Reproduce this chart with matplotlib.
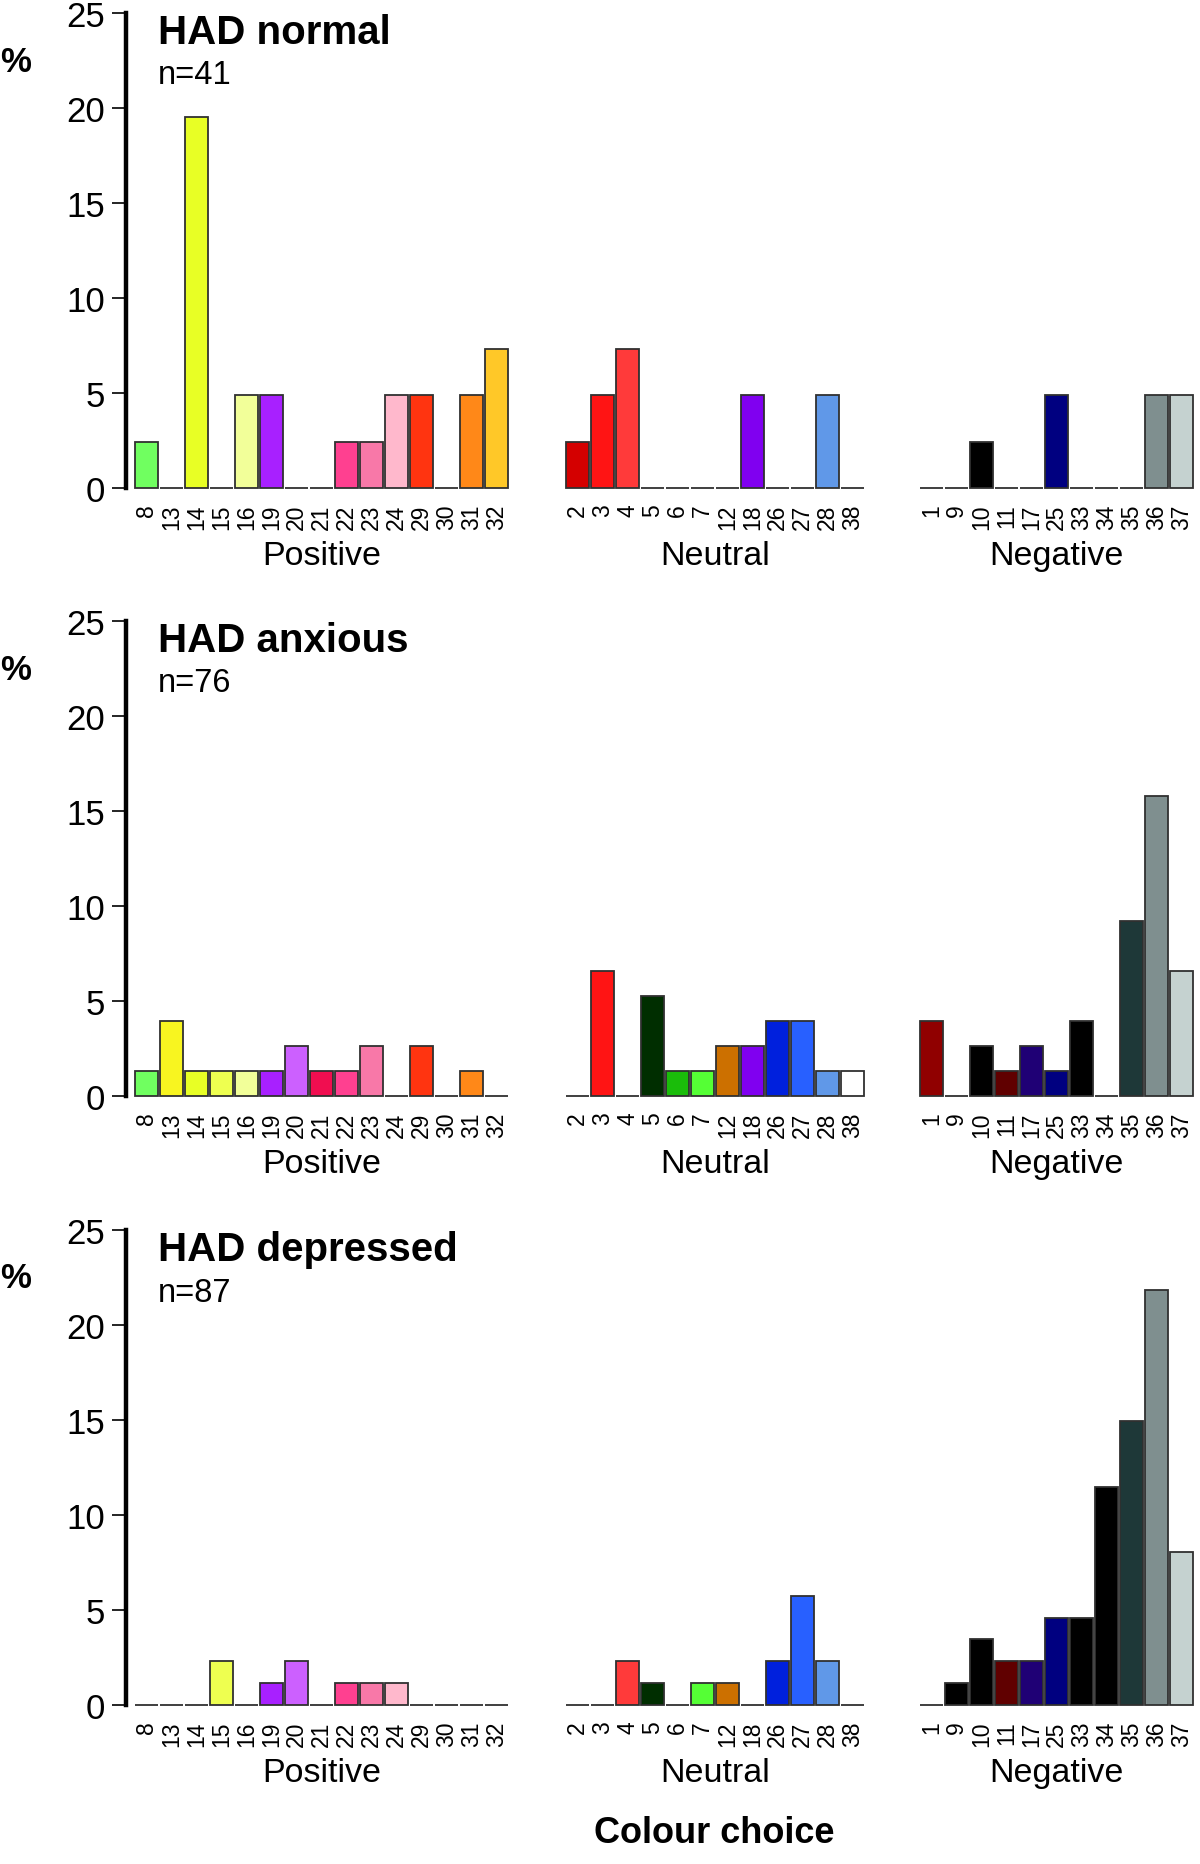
import numpy as np
import matplotlib.pyplot as plt
import matplotlib.transforms as mtransforms

plt.rcParams['font.family'] = ['Liberation Sans', 'DejaVu Sans']

# colour card numbers in each group
POSITIVE = [8, 13, 14, 15, 16, 19, 20, 21, 22, 23, 24, 29, 30, 31, 32]
NEUTRAL = [2, 3, 4, 5, 6, 7, 12, 18, 26, 27, 28, 38]
NEGATIVE = [1, 9, 10, 11, 17, 25, 33, 34, 35, 36, 37]
GROUP_NAMES = ['Positive', 'Neutral', 'Negative']

# fill colour of every card
CARD_COLOURS = {
    1: '#900000', 2: '#d40000', 3: '#ff1414', 4: '#ff3a3a', 5: '#002e00',
    6: '#1abd0a', 7: '#55ff35', 8: '#70ff60', 9: '#000000', 10: '#000000',
    11: '#600000', 12: '#cc7000', 13: '#f8f520', 14: '#e8ff25', 15: '#eeff50',
    16: '#f2ff99', 17: '#1f0075', 18: '#8000f0', 19: '#a820ff', 20: '#cc60ff',
    21: '#f00e50', 22: '#ff4090', 23: '#f878a8', 24: '#ffb8cc', 25: '#000080',
    26: '#0020dd', 27: '#2860ff', 28: '#6098e8', 29: '#ff3410', 30: '#ffffff',
    31: '#ff8818', 32: '#ffc828', 33: '#000000', 34: '#000000', 35: '#1e3838',
    36: '#7f8f8f', 37: '#c5d2d0', 38: '#ffffff',
}

TITLES = ['HAD normal', 'HAD anxious', 'HAD depressed']
N_LABELS = ['n=41', 'n=76', 'n=87']

# percentages
normal_pos = [2.44, 0, 19.51, 0, 4.88, 4.88, 0, 0, 2.44, 2.44, 4.88, 4.88, 0, 4.88, 7.32]
normal_neu = [2.44, 4.88, 7.32, 0, 0, 0, 0, 4.88, 0, 0, 4.88, 0]
normal_neg = [0, 0, 2.44, 0, 0, 4.88, 0, 0, 0, 4.88, 4.88]

anxious_pos = [1.32, 3.95, 1.32, 1.32, 1.32, 1.32, 2.63, 1.32, 1.32, 2.63, 0, 2.63, 0, 1.32, 0]
anxious_neu = [0, 6.58, 0, 5.26, 1.32, 1.32, 2.63, 2.63, 3.95, 3.95, 1.32, 1.32]
anxious_neg = [3.95, 0, 2.63, 1.32, 2.63, 1.32, 3.95, 0, 9.21, 15.79, 6.58]

depressed_pos = [0, 0, 0, 2.30, 0, 1.15, 2.30, 0, 1.15, 1.15, 1.15, 0, 0, 0, 0]
depressed_neu = [0, 0, 2.30, 1.15, 0, 1.15, 1.15, 0, 2.30, 5.75, 2.30, 0]
depressed_neg = [0, 1.15, 3.45, 2.30, 2.30, 4.60, 4.60, 11.49, 14.94, 21.84, 8.05]

panel_data = [
    [normal_pos, normal_neu, normal_neg],
    [anxious_pos, anxious_neu, anxious_neg],
    [depressed_pos, depressed_neu, depressed_neg],
]
groups = [POSITIVE, NEUTRAL, NEGATIVE]
offsets = [0, 17.25, 31.4]

W, H = 1200, 1865
fig = plt.figure(figsize=(W / 100, H / 100), dpi=100)

zero_px = [489, 1097, 1706]
height_px = 475

for p in range(3):
    ax = fig.add_axes([126 / W, 1 - zero_px[p] / H, 1074 / W, height_px / H])
    ticks, labels = [], []
    trans = mtransforms.blended_transform_factory(ax.transData, ax.transAxes)
    for g in range(3):
        xs = offsets[g] + np.arange(len(groups[g]))
        cols = [CARD_COLOURS[c] for c in groups[g]]
        ax.bar(xs, panel_data[p][g], width=0.92, color=cols,
               edgecolor='#303030', linewidth=1.3, clip_on=False)
        ticks += list(xs)
        labels += [str(c) for c in groups[g]]
        ax.text(xs.mean(), -0.143, GROUP_NAMES[g], transform=trans,
                ha='center', va='center', fontsize=24.5)
    ax.set_xlim(-0.82, 42.14)
    ax.set_ylim(0, 25)
    ax.set_xticks(ticks)
    ax.set_xticklabels(labels, rotation=90, fontsize=16.5, va='top')
    ax.tick_params(axis='x', length=0, pad=11)
    ax.set_yticks([0, 5, 10, 15, 20, 25])
    ax.tick_params(axis='y', labelsize=25, length=10, width=1.2, pad=5)
    for s in ['top', 'right', 'bottom']:
        ax.spines[s].set_visible(False)
    ax.spines['left'].set_linewidth(3.2)
    ax.spines['left'].set_bounds(0, 25)

    ax.text(0.0298, 1 - 19 / height_px, TITLES[p], transform=ax.transAxes,
            ha='left', va='center', fontsize=29, fontweight='bold')
    ax.text(0.0298, 1 - 62 / height_px, N_LABELS[p], transform=ax.transAxes,
            ha='left', va='center', fontsize=23.5)
    fig.text(16 / W, 1 - (zero_px[p] - height_px + 48) / H, '%',
             ha='center', va='center', fontsize=25, fontweight='bold')

fig.text(714 / W, 1 - 1834 / H, 'Colour choice', ha='center', va='center',
         fontsize=26, fontweight='bold')

fig.savefig('out.png', dpi=100)
